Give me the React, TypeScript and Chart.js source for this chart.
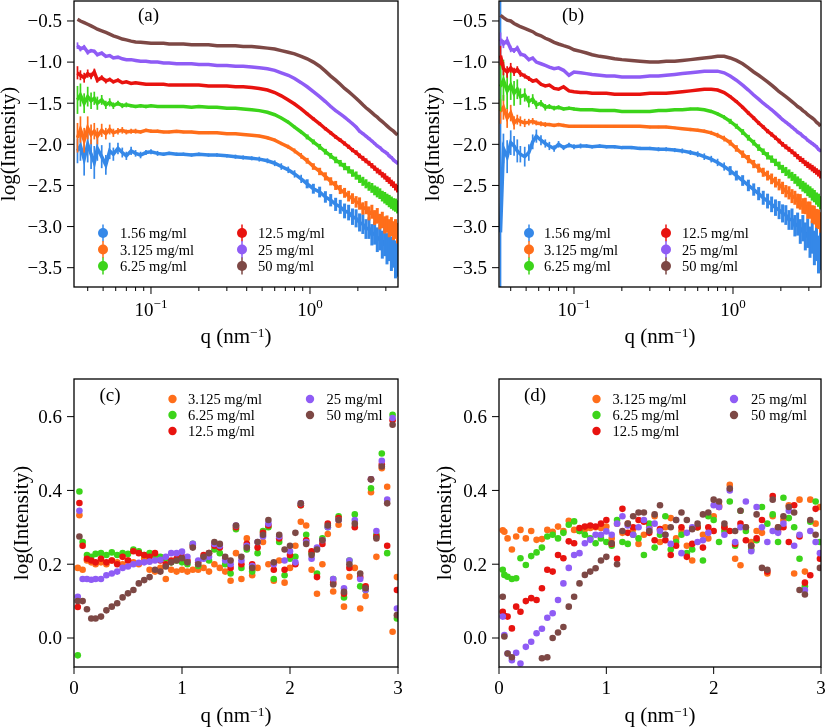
import React, { useEffect, useRef } from 'react';
import { Chart, registerables } from 'chart.js';

Chart.register(...registerables);

const SERIF = '"Liberation Serif", "Times New Roman", Times, serif';
const MINUS = '\u2212';

const C_BLUE = '#3588e8';
const C_ORANGE = '#ff6e1a';
const C_GREEN = '#3cd41a';
const C_RED = '#e8130f';
const C_PURPLE = '#8f5cf5';
const C_BROWN = '#7d4845';

// ---------- tick values ----------
const yTicksTop = [-3.5, -3.0, -2.5, -2.0, -1.5, -1.0, -0.5];
const yTicksRatio = [0.0, 0.2, 0.4, 0.6];
const xLogMajor = [0.1, 1];
const xLogMajorExp = [MINUS + '1', '0'];
const xLogMinor = [0.04, 0.05, 0.06, 0.07, 0.08, 0.09, 0.2, 0.3, 0.4, 0.5, 0.6, 0.7, 0.8, 0.9, 2, 3];
const xTicksRatio = [0, 1, 2, 3];

const labelsTop = ['1.56 mg/ml', '3.125 mg/ml', '6.25 mg/ml', '12.5 mg/ml', '25 mg/ml', '50 mg/ml'];
const labelsRatio = ['3.125 mg/ml', '6.25 mg/ml', '12.5 mg/ml', '25 mg/ml', '50 mg/ml'];

// ---------- panels (a),(b): q grid ----------
const qTop = [0.0345, 0.036, 0.038, 0.040, 0.042, 0.044, 0.046, 0.049, 0.052, 0.055,
  0.058, 0.062, 0.066, 0.070, 0.075, 0.080, 0.086, 0.093, 0.10, 0.11,
  0.12, 0.13, 0.145, 0.16, 0.18, 0.20, 0.23, 0.26, 0.30, 0.34,
  0.38, 0.43, 0.48, 0.54, 0.60, 0.66, 0.73, 0.80, 0.88, 0.96,
  1.05, 1.15, 1.25, 1.35, 1.45, 1.55, 1.65, 1.75, 1.85, 1.95,
  2.05, 2.15, 2.25, 2.35, 2.45, 2.55, 2.65, 2.75, 2.85, 2.95,
  3.05, 3.15, 3.25, 3.35, 3.45, 3.55];

// panel (a)
const aBlue = [-2.08, -2.02, -2.18, -2.00, -2.12, -2.22, -2.05, -2.15, -2.25, -2.08,
  -2.12, -2.05, -2.10, -2.14, -2.08, -2.11, -2.13, -2.10, -2.09, -2.11,
  -2.12, -2.11, -2.12, -2.12, -2.13, -2.12, -2.13, -2.13, -2.14, -2.15,
  -2.16, -2.17, -2.18, -2.20, -2.23, -2.27, -2.31, -2.36, -2.42, -2.48,
  -2.54, -2.58, -2.64, -2.68, -2.73, -2.76, -2.81, -2.83, -2.88, -2.90,
  -2.95, -2.97, -3.03, -3.02, -3.10, -3.08, -3.16, -3.13, -3.22, -3.18,
  -3.27, -3.22, -3.33, -3.28, -3.40, -3.36];
const aOrange = [-1.92, -1.82, -1.95, -1.80, -1.88, -1.84, -1.90, -1.83, -1.87, -1.82,
  -1.86, -1.84, -1.83, -1.85, -1.84, -1.84, -1.85, -1.83, -1.84, -1.84,
  -1.85, -1.85, -1.84, -1.85, -1.85, -1.86, -1.86, -1.86, -1.87, -1.87,
  -1.88, -1.89, -1.90, -1.92, -1.95, -1.99, -2.03, -2.08, -2.14, -2.20,
  -2.27, -2.33, -2.39, -2.45, -2.50, -2.55, -2.59, -2.63, -2.66, -2.70,
  -2.72, -2.78, -2.77, -2.84, -2.82, -2.89, -2.87, -2.94, -2.92, -2.98,
  -2.97, -3.02, -3.00, -3.05, -3.03, -3.08];
const aGreen = [-1.46, -1.40, -1.50, -1.42, -1.47, -1.44, -1.50, -1.46, -1.52, -1.49,
  -1.53, -1.50, -1.53, -1.52, -1.53, -1.54, -1.53, -1.54, -1.53, -1.54,
  -1.54, -1.54, -1.54, -1.54, -1.55, -1.54, -1.55, -1.55, -1.56, -1.56,
  -1.57, -1.58, -1.59, -1.61, -1.64, -1.68, -1.73, -1.79, -1.85, -1.91,
  -1.97, -2.03, -2.09, -2.14, -2.19, -2.23, -2.27, -2.31, -2.35, -2.38,
  -2.42, -2.45, -2.48, -2.51, -2.53, -2.56, -2.58, -2.60, -2.63, -2.65,
  -2.67, -2.69, -2.71, -2.73, -2.74, -2.76];
const aRed = [-1.13, -1.16, -1.19, -1.14, -1.17, -1.12, -1.22, -1.19, -1.23, -1.21,
  -1.24, -1.22, -1.25, -1.24, -1.26, -1.25, -1.26, -1.27, -1.27, -1.27,
  -1.27, -1.28, -1.28, -1.28, -1.28, -1.28, -1.29, -1.29, -1.29, -1.30,
  -1.30, -1.31, -1.32, -1.34, -1.37, -1.41, -1.46, -1.51, -1.57, -1.63,
  -1.69, -1.75, -1.81, -1.86, -1.91, -1.95, -1.99, -2.03, -2.07, -2.10,
  -2.14, -2.17, -2.20, -2.23, -2.26, -2.29, -2.32, -2.34, -2.37, -2.39,
  -2.42, -2.44, -2.47, -2.49, -2.52, -2.54];
const aPurple = [-0.80, -0.84, -0.82, -0.88, -0.86, -0.87, -0.91, -0.89, -0.93, -0.92,
  -0.95, -0.94, -0.96, -0.97, -0.97, -0.98, -0.99, -0.99, -1.00, -1.00,
  -1.01, -1.01, -1.02, -1.02, -1.02, -1.03, -1.03, -1.04, -1.04, -1.05,
  -1.05, -1.06, -1.07, -1.08, -1.10, -1.13, -1.16, -1.20, -1.25, -1.30,
  -1.36, -1.42, -1.48, -1.54, -1.59, -1.63, -1.67, -1.71, -1.75, -1.79,
  -1.84, -1.87, -1.90, -1.93, -1.96, -1.99, -2.02, -2.04, -2.07, -2.09,
  -2.11, -2.14, -2.16, -2.19, -2.21, -2.23];
const aBrown = [-0.48, -0.50, -0.52, -0.54, -0.56, -0.58, -0.60, -0.62, -0.64, -0.66,
  -0.68, -0.70, -0.72, -0.73, -0.745, -0.755, -0.76, -0.765, -0.77, -0.77,
  -0.77, -0.78, -0.78, -0.78, -0.79, -0.79, -0.79, -0.80, -0.80, -0.80,
  -0.81, -0.81, -0.82, -0.83, -0.84, -0.86, -0.88, -0.90, -0.93, -0.96,
  -1.00, -1.05, -1.11, -1.17, -1.22, -1.27, -1.32, -1.36, -1.40, -1.44,
  -1.48, -1.52, -1.555, -1.585, -1.615, -1.645, -1.67, -1.70, -1.725, -1.75,
  -1.775, -1.80, -1.82, -1.84, -1.865, -1.885];

// error bars (a)
const eABlue = [0.15, 0.18, 0.20, 0.22, 0.18, 0.20, 0.15, 0.14, 0.12, 0.10,
  0.08, 0.07, 0.06, 0.05, 0.05, 0.04, 0.04, 0.03, 0.03, 0.03,
  0.02, 0.02, 0.02, 0.02, 0.02, 0.02, 0.02, 0.02, 0.02, 0.025,
  0.025, 0.025, 0.03, 0.03, 0.035, 0.04, 0.04, 0.045, 0.05, 0.055,
  0.06, 0.065, 0.07, 0.075, 0.08, 0.085, 0.09, 0.095, 0.10, 0.11,
  0.11, 0.12, 0.12, 0.13, 0.13, 0.14, 0.15, 0.16, 0.17, 0.18,
  0.19, 0.20, 0.21, 0.22, 0.23, 0.25];
const eAOrange = [0.18, 0.16, 0.15, 0.14, 0.12, 0.10, 0.10, 0.08, 0.07, 0.06,
  0.05, 0.04, 0.04, 0.03, 0.03, 0.03, 0.02, 0.02, 0.02, 0.02,
  0.015, 0.015, 0.015, 0.015, 0.015, 0.015, 0.015, 0.015, 0.015, 0.015,
  0.015, 0.015, 0.015, 0.02, 0.02, 0.02, 0.025, 0.03, 0.035, 0.035,
  0.04, 0.045, 0.05, 0.05, 0.055, 0.055, 0.06, 0.065, 0.065, 0.07,
  0.075, 0.075, 0.08, 0.085, 0.085, 0.09, 0.095, 0.095, 0.10, 0.105,
  0.105, 0.11, 0.115, 0.115, 0.12, 0.125];
const eAGreen = [0.17, 0.14, 0.12, 0.12, 0.10, 0.08, 0.08, 0.06, 0.05, 0.05,
  0.04, 0.03, 0.03, 0.03, 0.02, 0.02, 0.02, 0.02, 0.015, 0.015,
  0.012, 0.012, 0.012, 0.012, 0.012, 0.012, 0.012, 0.012, 0.012, 0.012,
  0.012, 0.012, 0.012, 0.015, 0.015, 0.015, 0.02, 0.02, 0.025, 0.03,
  0.03, 0.035, 0.035, 0.035, 0.04, 0.04, 0.045, 0.045, 0.045, 0.05,
  0.05, 0.055, 0.055, 0.055, 0.06, 0.06, 0.065, 0.065, 0.065, 0.07,
  0.07, 0.075, 0.075, 0.075, 0.08, 0.08];
const eARed = [0.08, 0.06, 0.06, 0.05, 0.04, 0.04, 0.03, 0.03, 0.03, 0.02,
  0.02, 0.02, 0.015, 0.015, 0.012, 0.012, 0.01, 0.01, 0.01, 0.01,
  0.01, 0.01, 0.01, 0.01, 0.01, 0.01, 0.01, 0.01, 0.01, 0.01,
  0.01, 0.01, 0.01, 0.01, 0.01, 0.012, 0.012, 0.015, 0.015, 0.015,
  0.018, 0.018, 0.02, 0.02, 0.022, 0.022, 0.025, 0.025, 0.025, 0.028,
  0.028, 0.03, 0.03, 0.03, 0.032, 0.032, 0.035, 0.035, 0.035, 0.038,
  0.038, 0.04, 0.04, 0.04, 0.042, 0.045];
const eAPurple = [0.04, 0.03, 0.03, 0.03, 0.02, 0.02, 0.02, 0.015, 0.015, 0.01,
  0.01, 0.01, 0.01, 0.01, 0.01, 0.01, 0.01, 0.01, 0.01, 0.01,
  0.006, 0.006, 0.006, 0.006, 0.006, 0.006, 0.006, 0.006, 0.006, 0.006,
  0.006, 0.006, 0.006, 0.006, 0.006, 0.006, 0.006, 0.006, 0.006, 0.006,
  0.008, 0.008, 0.01, 0.01, 0.01, 0.01, 0.012, 0.012, 0.012, 0.012,
  0.014, 0.014, 0.014, 0.014, 0.014, 0.014, 0.014, 0.014, 0.014, 0.014,
  0.016, 0.016, 0.016, 0.016, 0.016, 0.016];

// panel (b)
const bBlue = [-3.07, -2.05, -2.15, -1.98, -2.02, -2.08, -2.12, -2.15, -2.10, -1.97,
  -1.90, -1.95, -1.99, -2.02, -2.05, -2.00, -2.04, -2.01, -2.03, -2.02,
  -2.02, -2.03, -2.02, -2.03, -2.03, -2.04, -2.04, -2.05, -2.05, -2.06,
  -2.06, -2.07, -2.08, -2.10, -2.12, -2.15, -2.18, -2.22, -2.27, -2.32,
  -2.38, -2.44, -2.50, -2.55, -2.60, -2.65, -2.69, -2.73, -2.77, -2.80,
  -2.84, -2.86, -2.92, -2.91, -2.99, -2.97, -3.06, -3.02, -3.12, -3.08,
  -3.19, -3.13, -3.26, -3.20, -3.34, -3.28];
const bOrange = [-1.60, -1.55, -1.68, -1.62, -1.74, -1.70, -1.72, -1.74, -1.73, -1.72,
  -1.74, -1.75, -1.76, -1.76, -1.77, -1.76, -1.77, -1.78, -1.78, -1.78,
  -1.78, -1.78, -1.78, -1.78, -1.78, -1.78, -1.78, -1.78, -1.79, -1.79,
  -1.79, -1.80, -1.81, -1.82, -1.83, -1.84, -1.86, -1.89, -1.93, -1.98,
  -2.05, -2.12, -2.18, -2.24, -2.29, -2.34, -2.38, -2.42, -2.46, -2.49,
  -2.53, -2.57, -2.59, -2.63, -2.65, -2.69, -2.70, -2.75, -2.75, -2.80,
  -2.80, -2.85, -2.86, -2.90, -2.91, -2.95];
const bGreen = [-1.30, -1.22, -1.35, -1.28, -1.38, -1.33, -1.42, -1.40, -1.48, -1.45,
  -1.52, -1.50, -1.55, -1.54, -1.56, -1.55, -1.57, -1.56, -1.57, -1.58,
  -1.58, -1.58, -1.59, -1.59, -1.59, -1.60, -1.60, -1.60, -1.60, -1.59,
  -1.59, -1.58, -1.58, -1.57, -1.57, -1.58, -1.60, -1.63, -1.67, -1.72,
  -1.78, -1.85, -1.92, -1.98, -2.04, -2.09, -2.14, -2.18, -2.22, -2.26,
  -2.30, -2.33, -2.36, -2.39, -2.42, -2.45, -2.48, -2.51, -2.53, -2.56,
  -2.58, -2.61, -2.63, -2.66, -2.68, -2.71];
const bRed = [-0.92, -1.08, -1.12, -1.07, -1.12, -1.09, -1.14, -1.17, -1.20, -1.23,
  -1.22, -1.27, -1.29, -1.28, -1.32, -1.33, -1.30, -1.35, -1.36, -1.37,
  -1.37, -1.38, -1.38, -1.38, -1.39, -1.39, -1.39, -1.39, -1.38, -1.38,
  -1.38, -1.37, -1.36, -1.35, -1.34, -1.33, -1.33, -1.34, -1.37, -1.42,
  -1.48, -1.55, -1.62, -1.68, -1.74, -1.79, -1.84, -1.88, -1.92, -1.96,
  -2.00, -2.03, -2.06, -2.09, -2.12, -2.15, -2.18, -2.20, -2.23, -2.25,
  -2.27, -2.29, -2.31, -2.33, -2.35, -2.37];
const bPurple = [-0.72, -0.78, -0.74, -0.84, -0.86, -0.83, -0.90, -0.92, -0.97, -0.95,
  -1.00, -1.02, -1.04, -1.06, -1.08, -1.07, -1.10, -1.16, -1.12, -1.13,
  -1.14, -1.15, -1.16, -1.17, -1.17, -1.18, -1.18, -1.18, -1.17, -1.17,
  -1.16, -1.15, -1.14, -1.13, -1.12, -1.11, -1.11, -1.11, -1.13, -1.17,
  -1.22, -1.28, -1.34, -1.40, -1.45, -1.50, -1.54, -1.58, -1.62, -1.66,
  -1.70, -1.73, -1.76, -1.79, -1.82, -1.85, -1.87, -1.90, -1.92, -1.95,
  -1.97, -1.99, -2.01, -2.03, -2.06, -2.08];
const bBrown = [-0.43, -0.46, -0.49, -0.50, -0.53, -0.55, -0.57, -0.59, -0.61, -0.63,
  -0.66, -0.68, -0.71, -0.73, -0.76, -0.78, -0.80, -0.82, -0.85, -0.87,
  -0.89, -0.91, -0.93, -0.94, -0.96, -0.97, -0.98, -0.99, -1.00, -1.00,
  -0.99, -0.99, -0.98, -0.97, -0.96, -0.95, -0.94, -0.93, -0.93, -0.95,
  -0.98, -1.02, -1.07, -1.12, -1.16, -1.20, -1.24, -1.28, -1.32, -1.36,
  -1.39, -1.42, -1.45, -1.48, -1.51, -1.54, -1.56, -1.59, -1.61, -1.64,
  -1.66, -1.68, -1.70, -1.73, -1.75, -1.78];

// error bars (b): low-q parts differ, the rest reuses (a)
const eBBlueLow = [3.2, 0.18, 0.20, 0.15, 0.12, 0.14, 0.10, 0.12, 0.10, 0.09,
  0.08, 0.06, 0.05, 0.05, 0.04, 0.04, 0.03, 0.03, 0.03, 0.03];
const eBOrangeLow = [0.15, 0.15, 0.12, 0.10, 0.08, 0.06, 0.06, 0.05, 0.04, 0.04,
  0.03, 0.03, 0.03, 0.02, 0.02, 0.02, 0.02, 0.015, 0.015, 0.015];
const eBGreenLow = [0.30, 0.25, 0.22, 0.18, 0.15, 0.12, 0.10, 0.08, 0.07, 0.06,
  0.05, 0.04, 0.04, 0.03, 0.03, 0.025, 0.02, 0.02, 0.02, 0.015];
const eBRedLow = [0.12, 0.08, 0.07, 0.06, 0.05, 0.04, 0.04, 0.03, 0.03, 0.02,
  0.02, 0.02, 0.015, 0.015, 0.012, 0.012, 0.01, 0.01, 0.01, 0.01];
const eBPurpleLow = [0.08, 0.05, 0.05, 0.04, 0.03, 0.03, 0.03, 0.02, 0.02, 0.015,
  0.01, 0.01, 0.01, 0.01, 0.01, 0.01, 0.01, 0.01, 0.01, 0.01];
const eBBlue = [...eBBlueLow, ...eABlue.slice(20)];
const eBOrange = [...eBOrangeLow, ...eAOrange.slice(20)];
const eBGreen = [...eBGreenLow, ...eAGreen.slice(20)];
const eBRed = [...eBRedLow, ...eARed.slice(20)];
const eBPurple = [...eBPurpleLow, ...eAPurple.slice(20)];

// ---------- panels (c),(d): q grid ----------
const qRatio = [0.035, 0.05, 0.08, 0.12, 0.16, 0.20, 0.25, 0.30, 0.35, 0.40,
  0.45, 0.50, 0.55, 0.60, 0.65, 0.70, 0.75, 0.80, 0.85, 0.90,
  0.95, 1.00, 1.05, 1.10, 1.15, 1.20, 1.25, 1.30, 1.35, 1.40,
  1.45, 1.50, 1.55, 1.60, 1.65, 1.70, 1.75, 1.80, 1.85, 1.90,
  1.95, 2.00, 2.05, 2.10, 2.15, 2.20, 2.25, 2.30, 2.35, 2.40,
  2.45, 2.50, 2.55, 2.60, 2.65, 2.70, 2.75, 2.80, 2.85, 2.90,
  2.95, 2.99];

// panel (c)
const cOrange = [0.19, 0.333, 0.185, 0.21, 0.205, 0.20, 0.205, 0.20, 0.21, 0.205,
  0.20, 0.21, 0.205, 0.20, 0.215, 0.185, 0.18, 0.19, 0.16, 0.185,
  0.18, 0.185, 0.18, 0.185, 0.185, 0.19, 0.18, 0.20, 0.19, 0.18,
  0.155, 0.23, 0.16, 0.27, 0.17, 0.19, 0.26, 0.20, 0.155, 0.21,
  0.15, 0.19, 0.25, 0.315, 0.305, 0.185, 0.12, 0.20, 0.282, 0.126,
  0.307, 0.085, 0.166, 0.19, 0.08, 0.114, 0.395, 0.22, 0.46, 0.41,
  0.017, 0.165];
const cGreen = [-0.047, 0.397, 0.26, 0.225, 0.22, 0.228, 0.23, 0.225, 0.232, 0.225,
  0.23, 0.228, 0.24, 0.235, 0.225, 0.23, 0.225, 0.22, 0.215, 0.205,
  0.21, 0.205, 0.20, 0.255, 0.195, 0.22, 0.21, 0.24, 0.23, 0.20,
  0.175, 0.295, 0.19, 0.24, 0.18, 0.23, 0.29, 0.30, 0.16, 0.26,
  0.17, 0.215, 0.22, 0.36, 0.28, 0.23, 0.175, 0.27, 0.30, 0.16,
  0.33, 0.11, 0.21, 0.335, 0.14, 0.13, 0.406, 0.28, 0.50, 0.23,
  0.605, 0.053];
const cRed = [0.084, 0.366, 0.25, 0.215, 0.21, 0.205, 0.215, 0.205, 0.21, 0.20,
  0.22, 0.21, 0.235, 0.23, 0.225, 0.22, 0.23, 0.21, 0.20, 0.21,
  0.215, 0.22, 0.21, 0.25, 0.205, 0.225, 0.23, 0.25, 0.245, 0.215,
  0.19, 0.30, 0.20, 0.255, 0.20, 0.245, 0.285, 0.305, 0.185, 0.27,
  0.185, 0.225, 0.20, 0.36, 0.265, 0.235, 0.165, 0.255, 0.31, 0.15,
  0.325, 0.12, 0.19, 0.30, 0.165, 0.14, 0.43, 0.275, 0.47, 0.25,
  0.59, 0.13];
const cPurple = [0.112, 0.345, 0.16, 0.16, 0.158, 0.16, 0.16, 0.17, 0.175, 0.18,
  0.19, 0.194, 0.20, 0.204, 0.205, 0.207, 0.21, 0.212, 0.22, 0.23,
  0.23, 0.234, 0.22, 0.255, 0.21, 0.215, 0.22, 0.255, 0.25, 0.21,
  0.20, 0.305, 0.21, 0.25, 0.195, 0.26, 0.275, 0.31, 0.20, 0.275,
  0.21, 0.235, 0.205, 0.365, 0.26, 0.215, 0.245, 0.265, 0.30, 0.16,
  0.32, 0.135, 0.21, 0.32, 0.16, 0.13, 0.43, 0.29, 0.48, 0.375,
  0.596, 0.08];
const cBrown = [0.10, 0.275, 0.10, 0.078, 0.053, 0.053, 0.058, 0.075, 0.085, 0.094,
  0.11, 0.121, 0.13, 0.148, 0.157, 0.165, 0.185, 0.18, 0.194, 0.205,
  0.21, 0.216, 0.205, 0.245, 0.20, 0.22, 0.23, 0.26, 0.255, 0.22,
  0.21, 0.305, 0.22, 0.245, 0.19, 0.26, 0.28, 0.32, 0.205, 0.28,
  0.24, 0.25, 0.285, 0.365, 0.255, 0.225, 0.24, 0.265, 0.305, 0.145,
  0.32, 0.125, 0.20, 0.31, 0.175, 0.135, 0.43, 0.27, 0.465, 0.365,
  0.578, 0.062];

// panel (d)
const dOrange = [0.292, 0.288, 0.27, 0.24, 0.275, 0.293, 0.27, 0.29, 0.266, 0.268,
  0.293, 0.288, 0.302, 0.29, 0.318, 0.293, 0.29, 0.295, 0.298, 0.30,
  0.298, 0.302, 0.27, 0.31, 0.285, 0.31, 0.295, 0.255, 0.28, 0.30,
  0.33, 0.26, 0.30, 0.325, 0.27, 0.29, 0.25, 0.21, 0.30, 0.28,
  0.27, 0.33, 0.36, 0.30, 0.415, 0.215, 0.197, 0.30, 0.26, 0.29,
  0.285, 0.175, 0.33, 0.30, 0.32, 0.36, 0.175, 0.375, 0.18, 0.375,
  0.31, 0.355];
const dGreen = [0.185, 0.171, 0.166, 0.16, 0.162, 0.216, 0.198, 0.222, 0.232, 0.245,
  0.275, 0.28, 0.27, 0.285, 0.307, 0.316, 0.29, 0.28, 0.27, 0.257,
  0.27, 0.26, 0.25, 0.32, 0.26, 0.255, 0.28, 0.27, 0.225, 0.31,
  0.245, 0.28, 0.33, 0.24, 0.26, 0.28, 0.23, 0.24, 0.30, 0.21,
  0.33, 0.32, 0.26, 0.29, 0.37, 0.25, 0.345, 0.29, 0.24, 0.265,
  0.355, 0.31, 0.335, 0.26, 0.38, 0.325, 0.30, 0.215, 0.14, 0.315,
  0.37, 0.26];
const dRed = [0.071, 0.06, 0.058, 0.026, 0.085, 0.071, 0.10, 0.108, 0.103, 0.135,
  0.185, 0.18, 0.225, 0.216, 0.262, 0.257, 0.298, 0.302, 0.305, 0.302,
  0.31, 0.32, 0.255, 0.215, 0.35, 0.285, 0.30, 0.32, 0.315, 0.285,
  0.265, 0.295, 0.265, 0.225, 0.25, 0.30, 0.22, 0.255, 0.30, 0.245,
  0.30, 0.29, 0.355, 0.30, 0.29, 0.255, 0.31, 0.265, 0.25, 0.27,
  0.32, 0.18, 0.385, 0.29, 0.30, 0.26, 0.36, 0.275, 0.15, 0.17,
  0.35, 0.215];
const dPurple = [0.058, 0.008, -0.042, -0.06, -0.04, -0.069, -0.024, -0.01, 0.013, 0.025,
  0.055, 0.067, 0.103, 0.148, 0.19, 0.225, 0.23, 0.257, 0.266, 0.28,
  0.28, 0.289, 0.28, 0.31, 0.33, 0.305, 0.28, 0.30, 0.32, 0.295,
  0.31, 0.29, 0.28, 0.255, 0.32, 0.23, 0.285, 0.30, 0.26, 0.265,
  0.285, 0.36, 0.355, 0.28, 0.40, 0.26, 0.30, 0.37, 0.235, 0.355,
  0.30, 0.26, 0.29, 0.285, 0.31, 0.345, 0.25, 0.28, 0.13, 0.29,
  0.26, 0.23];
const dBrown = [0.112, 0.004, -0.042, -0.052, -0.10, -0.11, -0.12, -0.11, -0.10, -0.055,
  -0.052, 0.0, 0.015, 0.03, 0.085, 0.112, 0.148, 0.171, 0.18, 0.189,
  0.21, 0.22, 0.257, 0.20, 0.29, 0.31, 0.33, 0.34, 0.34, 0.29,
  0.335, 0.36, 0.28, 0.30, 0.32, 0.34, 0.32, 0.295, 0.31, 0.335,
  0.34, 0.375, 0.37, 0.31, 0.405, 0.29, 0.345, 0.30, 0.25, 0.335,
  0.19, 0.185, 0.375, 0.30, 0.33, 0.355, 0.34, 0.13, 0.118, 0.32,
  0.28, 0.19];

// ---------- helpers ----------
const toPts = (xs: number[], ys: number[]) => xs.map((x, i) => ({ x, y: ys[i] }));

const topColors = [C_BLUE, C_ORANGE, C_GREEN, C_RED, C_PURPLE, C_BROWN];
const ratioColors = [C_ORANGE, C_GREEN, C_RED, C_PURPLE, C_BROWN];

function lineSets(series: number[][]) {
  return series.map((ys, i) => ({
    label: labelsTop[i],
    data: toPts(qTop, ys),
    borderColor: topColors[i],
    backgroundColor: topColors[i],
    borderWidth: 3.5,
    pointRadius: 0,
    showLine: true,
    tension: 0,
    order: series.length - 1 - i,
  }));
}

function scatterSets(series: number[][]) {
  return series.map((ys, i) => ({
    label: labelsRatio[i],
    data: toPts(qRatio, ys),
    backgroundColor: ratioColors[i],
    borderColor: ratioColors[i],
    borderWidth: 0,
    pointRadius: 3.3,
    pointBorderWidth: 0,
    pointHoverRadius: 3.3,
    showLine: false,
    order: series.length - 1 - i,
  }));
}

function drawRuns(ctx: CanvasRenderingContext2D, runs: { t: string; s: number; r: number }[], cx: number, baseY: number) {
  const widths = runs.map((r) => {
    ctx.font = `${r.s}px ${SERIF}`;
    return ctx.measureText(r.t).width;
  });
  const total = widths.reduce((a, b) => a + b, 0);
  let x = cx - total / 2;
  ctx.textAlign = 'left';
  ctx.textBaseline = 'alphabetic';
  runs.forEach((r, i) => {
    ctx.font = `${r.s}px ${SERIF}`;
    ctx.fillText(r.t, x, baseY - r.r);
    x += widths[i];
  });
}

const fmtY = (v: number) => (v < 0 ? MINUS : '') + Math.abs(v).toFixed(1);

function drawDecor(chart: any, spec: any) {
  const ctx: CanvasRenderingContext2D = chart.ctx;
  const { left, right, top, bottom } = chart.chartArea;
  const xs = chart.scales.x;
  const ys = chart.scales.y;
  ctx.save();
  ctx.fillStyle = '#000';
  ctx.strokeStyle = '#000';

  // frame
  ctx.lineWidth = 1.3;
  ctx.strokeRect(left, top, right - left, bottom - top);

  // y ticks
  ctx.lineWidth = 1;
  ctx.font = `19px ${SERIF}`;
  ctx.textAlign = 'right';
  ctx.textBaseline = 'alphabetic';
  for (const v of spec.yTicks) {
    const py = ys.getPixelForValue(v);
    ctx.beginPath();
    ctx.moveTo(left - 7, py);
    ctx.lineTo(left, py);
    ctx.stroke();
    ctx.fillText(fmtY(v), left - 12, py + 6.3);
  }

  // x ticks
  if (spec.log) {
    for (const v of xLogMinor) {
      const px = xs.getPixelForValue(v);
      ctx.beginPath();
      ctx.moveTo(px, bottom);
      ctx.lineTo(px, bottom + 4);
      ctx.stroke();
    }
    xLogMajor.forEach((v, i) => {
      const px = xs.getPixelForValue(v);
      ctx.beginPath();
      ctx.moveTo(px, bottom);
      ctx.lineTo(px, bottom + 7);
      ctx.stroke();
      drawRuns(ctx, [{ t: '10', s: 19, r: 0 }, { t: xLogMajorExp[i], s: 13, r: 8 }], px, bottom + 29);
    });
  } else {
    ctx.font = `19px ${SERIF}`;
    ctx.textAlign = 'center';
    for (const v of xTicksRatio) {
      const px = xs.getPixelForValue(v);
      ctx.beginPath();
      ctx.moveTo(px, bottom);
      ctx.lineTo(px, bottom + 7);
      ctx.stroke();
      ctx.fillText(String(v), px, bottom + 27);
    }
  }

  // x title
  drawRuns(ctx, [
    { t: 'q (nm', s: 21, r: 0 },
    { t: MINUS + '1', s: 13.5, r: 6 },
    { t: ')', s: 21, r: 0 },
  ], (left + right) / 2, bottom + spec.xTitleDy);

  // y title
  ctx.save();
  ctx.translate(left - spec.yTitleDx, (top + bottom) / 2);
  ctx.rotate(-Math.PI / 2);
  ctx.font = `21px ${SERIF}`;
  ctx.textAlign = 'center';
  ctx.textBaseline = 'alphabetic';
  ctx.fillText('log(Intensity)', 0, 0);
  ctx.restore();

  // panel label
  ctx.font = `19px ${SERIF}`;
  ctx.textAlign = 'center';
  ctx.textBaseline = 'alphabetic';
  ctx.fillText(spec.panelLabel, left + spec.labelDx, top + spec.labelDy);

  // legend
  const datasets = chart.data.datasets;
  ctx.font = `14.5px ${SERIF}`;
  ctx.textAlign = 'left';
  datasets.forEach((ds: any, i: number) => {
    const col = spec.legendCol[i];
    const row = spec.legendRow[i];
    const mx = left + spec.legendColX[col][0];
    const tx = left + spec.legendColX[col][1];
    const my = top + spec.legendRowY[row];
    const color = ds.backgroundColor;
    ctx.fillStyle = color;
    ctx.strokeStyle = color;
    if (spec.legendErr) {
      ctx.lineWidth = 1.5;
      ctx.beginPath();
      ctx.moveTo(mx, my - 8.5);
      ctx.lineTo(mx, my + 8.5);
      ctx.stroke();
    }
    ctx.beginPath();
    ctx.arc(mx, my, spec.legendR, 0, Math.PI * 2);
    ctx.fill();
    ctx.fillStyle = '#000';
    ctx.fillText(ds.label, tx, my + 5);
  });
  ctx.restore();
}

// ---------- panel specs ----------
const topLegendCol = [0, 0, 0, 1, 1, 1];
const topLegendRow = [0, 1, 2, 0, 1, 2];
const ratioLegendCol = [0, 0, 0, 1, 1];
const ratioLegendRow = [0, 1, 2, 0, 1];

const panels = [
  {
    key: 'a', left: 0, top: 0, width: 412, height: 360,
    pad: { left: 74, top: 1, right: 14, bottom: 73 },
    log: true, xMin: 0.0328, xMax: 3.577, yMin: -3.735, yMax: -0.257,
    datasets: lineSets([aBlue, aOrange, aGreen, aRed, aPurple, aBrown]),
    errors: [eABlue, eAOrange, eAGreen, eARed, eAPurple, null],
    yTicks: yTicksTop, xTitleDy: 56, yTitleDx: 59,
    panelLabel: '(a)', labelDx: 74.5, labelDy: 20,
    legendCol: topLegendCol, legendRow: topLegendRow,
    legendColX: [[29, 46], [168, 184]], legendRowY: [232, 248.5, 265],
    legendErr: true, legendR: 5,
  },
  {
    key: 'b', left: 412, top: 0, width: 413, height: 360,
    pad: { left: 87, top: 1, right: 4, bottom: 73 },
    log: true, xMin: 0.03376, xMax: 3.577, yMin: -3.735, yMax: -0.257,
    datasets: lineSets([bBlue, bOrange, bGreen, bRed, bPurple, bBrown]),
    errors: [eBBlue, eBOrange, eBGreen, eBRed, eBPurple, null],
    yTicks: yTicksTop, xTitleDy: 56, yTitleDx: 60,
    panelLabel: '(b)', labelDx: 74, labelDy: 20,
    legendCol: topLegendCol, legendRow: topLegendRow,
    legendColX: [[30, 45], [167, 183]], legendRowY: [232, 248.5, 265],
    legendErr: true, legendR: 5,
  },
  {
    key: 'c', left: 0, top: 360, width: 412, height: 367,
    pad: { left: 74, top: 19, right: 14, bottom: 60 },
    log: false, xMin: 0, xMax: 3, yMin: -0.0786, yMax: 0.702,
    datasets: scatterSets([cOrange, cGreen, cRed, cPurple, cBrown]),
    errors: null,
    yTicks: yTicksRatio, xTitleDy: 55, yTitleDx: 46,
    panelLabel: '(c)', labelDx: 36, labelDy: 22,
    legendCol: ratioLegendCol, legendRow: ratioLegendRow,
    legendColX: [[98.5, 114], [236, 252.5]], legendRowY: [20, 36, 52],
    legendErr: false, legendR: 4.2,
  },
  {
    key: 'd', left: 412, top: 360, width: 413, height: 367,
    pad: { left: 87, top: 19, right: 4, bottom: 60 },
    log: false, xMin: 0, xMax: 3, yMin: -0.0786, yMax: 0.702,
    datasets: scatterSets([dOrange, dGreen, dRed, dPurple, dBrown]),
    errors: null,
    yTicks: yTicksRatio, xTitleDy: 55, yTitleDx: 48,
    panelLabel: '(d)', labelDx: 36, labelDy: 22,
    legendCol: ratioLegendCol, legendRow: ratioLegendRow,
    legendColX: [[97.5, 113.5], [235, 252]], legendRowY: [20, 36, 52],
    legendErr: false, legendR: 4.2,
  },
];

function Panel({ spec }: { spec: any }) {
  const ref = useRef<HTMLCanvasElement>(null);
  useEffect(() => {
    const canvas = ref.current;
    if (!canvas) return;
    const decor = {
      id: 'decor_' + spec.key,
      afterDatasetDraw(chart: any, args: any) {
        const errs = spec.errors ? spec.errors[args.index] : null;
        if (!errs) return;
        const ds = chart.data.datasets[args.index];
        const ctx: CanvasRenderingContext2D = chart.ctx;
        const ca = chart.chartArea;
        const xs = chart.scales.x;
        const ys = chart.scales.y;
        ctx.save();
        ctx.beginPath();
        ctx.rect(ca.left, ca.top, ca.right - ca.left, ca.bottom - ca.top);
        ctx.clip();
        ctx.strokeStyle = ds.borderColor;
        ds.data.forEach((p: any, i: number) => {
          const e = errs[i];
          if (!e) return;
          const px = xs.getPixelForValue(p.x);
          ctx.lineWidth = p.x > 0.9 ? 3 : 1.7;
          ctx.beginPath();
          ctx.moveTo(px, ys.getPixelForValue(p.y - e));
          ctx.lineTo(px, ys.getPixelForValue(p.y + e));
          ctx.stroke();
        });
        ctx.restore();
      },
      afterDraw(chart: any) {
        drawDecor(chart, spec);
      },
    };
    const chart = new Chart(canvas, {
      type: 'scatter',
      data: { datasets: spec.datasets },
      options: {
        responsive: false,
        maintainAspectRatio: false,
        animation: false,
        events: [],
        layout: { padding: spec.pad },
        plugins: { legend: { display: false }, tooltip: { enabled: false } },
        scales: {
          x: { type: spec.log ? 'logarithmic' : 'linear', min: spec.xMin, max: spec.xMax, display: false },
          y: { type: 'linear', min: spec.yMin, max: spec.yMax, display: false },
        },
      },
      plugins: [decor],
    } as any);
    return () => chart.destroy();
  }, [spec]);
  return (
    <canvas
      ref={ref}
      width={spec.width}
      height={spec.height}
      style={{ position: 'absolute', left: spec.left, top: spec.top, width: spec.width, height: spec.height }}
    />
  );
}

export default function App() {
  return (
    <div style={{ position: 'absolute', left: 0, top: 0, width: 825, height: 727, background: '#fff', overflow: 'hidden' }}>
      {panels.map((p) => (
        <Panel key={p.key} spec={p} />
      ))}
    </div>
  );
}
